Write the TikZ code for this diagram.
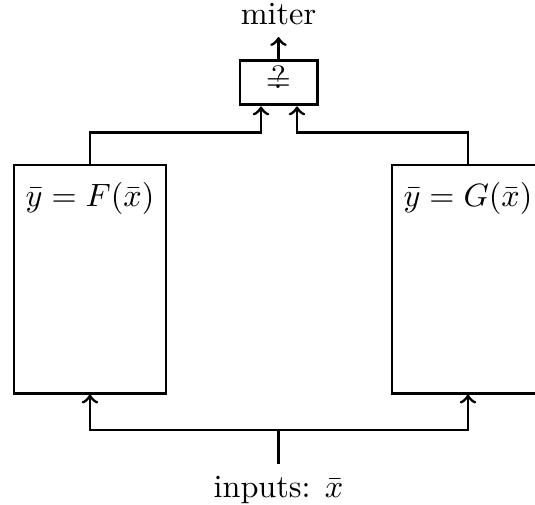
\documentclass[tikz,border=0pt]{standalone}
\usetikzlibrary{calc}
\begin{document}
\begin{tikzpicture}[x=0.31pt,y=-0.31pt, line width=0.9pt, >=to,
  bigbox/.style={draw, rectangle, minimum width=47.1pt, minimum height=70.7pt, inner sep=0pt},
  eqbox/.style={draw, rectangle, minimum width=23.9pt, minimum height=13.9pt, inner sep=0pt},
  boxtext/.style={anchor=north, yshift=-2pt}]
\useasboundingbox (0,0) rectangle (535,504);
\node[bigbox] (F) at (90,279) {};
\node[bigbox] (G) at (468,279) {};
\node[boxtext] (Ft) at (F.north) {$\bar y = F(\bar x)$};
\node[boxtext] (Gt) at (G.north) {$\bar y = G(\bar x)$};
\node[eqbox] (eq) at (278.5,82.5) {\smash{\raisebox{-2.5pt}{\ooalign{\hfil\raisebox{0.8pt}{$?$}\hfil\cr$=$\cr}}}};
\coordinate (eqL) at ($(eq.south)+(-17.5,0)$);
\coordinate (eqR) at ($(eq.south)+(18.5,0)$);
\node[anchor=south] (miter) at (278.5,37) {miter};
\node[anchor=north] (in) at (278.5,464) {inputs: $\bar x$};
\draw[->] (F.north) -- ++(0,-31) -| (eqL);
\draw[->] (G.north) -- ++(0,-31) -| (eqR);
\draw[->] (eq.north) -- (miter.south);
\draw (in.north) -- ++(0,-34) coordinate (split);
\draw[->] (split) -| (F.south);
\draw[->] (split) -| (G.south);
\end{tikzpicture}
\end{document}
